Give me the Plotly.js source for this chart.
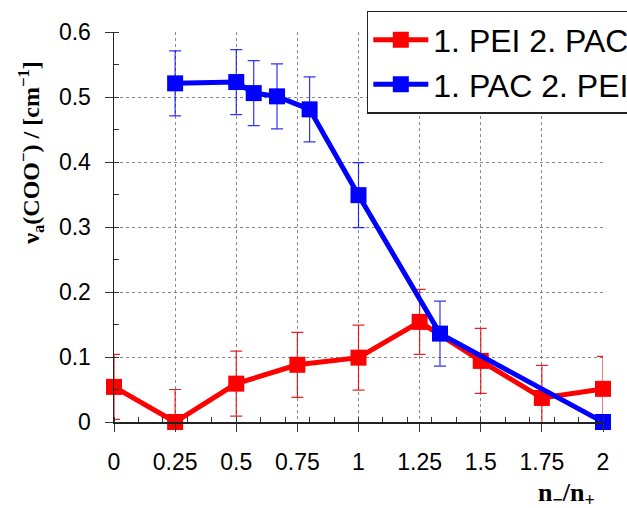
<!DOCTYPE html>
<html>
<head>
<meta charset="utf-8">
<script src="https://cdn.plot.ly/plotly-3.0.1.min.js"></script>
<style>
  html, body { margin: 0; padding: 0; background: #fff; }
  #chart { width: 627px; height: 508px; }
</style>
</head>
<body>
<div id="chart"></div>
<script>
// Series 1: PEI first, then PAC
const peiPacX   = [0, 0.25, 0.5, 0.75, 1, 1.25, 1.5, 1.75, 2];
const peiPacY   = [0.054, 0.0, 0.059, 0.088, 0.099, 0.154, 0.094, 0.037, 0.051];
const peiPacErr = [0.05, 0.05, 0.05, 0.05, 0.05, 0.05, 0.05, 0.05, 0.05];

// Series 2: PAC first, then PEI
const pacPeiX   = [0.25, 0.5, 0.5714, 0.6667, 0.8, 1, 1.3333, 2];
const pacPeiY   = [0.521, 0.523, 0.506, 0.501, 0.481, 0.349, 0.136, 0.0];
const pacPeiErr = [0.05, 0.05, 0.05, 0.05, 0.05, 0.05, 0.05, 0];

// Axis ticks
const xTickVals = [0, 0.25, 0.5, 0.75, 1, 1.25, 1.5, 1.75, 2];
const xTickText = ['0', '0.25', '0.5', '0.75', '1', '1.25', '1.5', '1.75', '2'];
const yTickVals = [0, 0.1, 0.2, 0.3, 0.4, 0.5, 0.6];
const yTickText = ['0', '0.1', '0.2', '0.3', '0.4', '0.5', '0.6'];

const traces = [
  {
    name: '1. PEI 2. PAC',
    x: peiPacX, y: peiPacY,
    type: 'scatter', mode: 'lines+markers',
    line: { color: 'rgb(255,0,0)', width: 5 },
    marker: { symbol: 'square', size: 16, color: 'rgb(255,0,0)' },
    error_y: { type: 'data', array: peiPacErr, visible: true,
               color: 'rgba(225,0,0,0.85)', thickness: 1.2, width: 6 },
    cliponaxis: false
  },
  {
    name: '1. PAC 2. PEI',
    x: pacPeiX, y: pacPeiY,
    type: 'scatter', mode: 'lines+markers',
    line: { color: 'rgb(0,0,255)', width: 5 },
    marker: { symbol: 'square', size: 16, color: 'rgb(0,0,255)' },
    error_y: { type: 'data', array: pacPeiErr, visible: true,
               color: 'rgba(0,0,240,0.8)', thickness: 1.2, width: 6 },
    cliponaxis: false
  }
];

const axisCommon = {
  showline: true, linecolor: '#222', linewidth: 1.5,
  ticks: 'outside', ticklen: 8, tickcolor: '#333', tickwidth: 1,
  showgrid: true, gridcolor: '#888', gridwidth: 1, griddash: 'dot',
  zeroline: false,
  tickfont: { family: 'Liberation Sans, Arial, sans-serif', size: 23, color: '#000' }
};

const layout = {
  width: 627, height: 508,
  margin: { l: 114, r: 24, t: 32, b: 86, autoexpand: false },
  paper_bgcolor: '#fff', plot_bgcolor: '#fff',
  font: { family: 'Liberation Sans, Arial, sans-serif', color: '#000' },
  showlegend: true,
  legend: {
    x: 0.517, y: 1.054, xanchor: 'left', yanchor: 'top',
    bgcolor: '#fff', bordercolor: '#222', borderwidth: 1.5,
    font: { family: 'Liberation Sans, Arial, sans-serif', size: 32, color: '#000' },
    itemwidth: 55
  },
  xaxis: Object.assign({}, axisCommon, {
    range: [0, 2],
    tickmode: 'array', tickvals: xTickVals, ticktext: xTickText,
    ticklabelstandoff: 11,
    minor: { dtick: 0.1, tick0: 0, ticks: 'inside', ticklen: 5, tickcolor: '#333', showgrid: false }
  }),
  yaxis: Object.assign({}, axisCommon, {
    range: [0, 0.6],
    tickmode: 'array', tickvals: yTickVals, ticktext: yTickText,
    ticklabelstandoff: 9,
    minor: { dtick: 0.05, tick0: 0, ticks: 'inside', ticklen: 5, tickcolor: '#333', showgrid: false }
  }),
  annotations: [
    {
      text: '<b>ν<sub>a</sub>(COO<sup>−</sup>) / [cm<sup>−1</sup>]</b>',
      xref: 'paper', yref: 'paper', x: -0.17, y: 0.69,
      xanchor: 'center', yanchor: 'middle', textangle: -90, showarrow: false,
      font: { family: 'Liberation Serif, Times New Roman, serif', size: 24, color: '#000' }
    },
    {
      text: '<b>n<sub>−</sub>/n<sub>+</sub></b>',
      xref: 'paper', yref: 'paper', x: 0.926, y: -0.185,
      xanchor: 'center', yanchor: 'middle', showarrow: false,
      font: { family: 'Liberation Serif, Times New Roman, serif', size: 26, color: '#000' }
    }
  ]
};

Plotly.newPlot('chart', traces, layout, { displayModeBar: false, staticPlot: true });
</script>
</body>
</html>
